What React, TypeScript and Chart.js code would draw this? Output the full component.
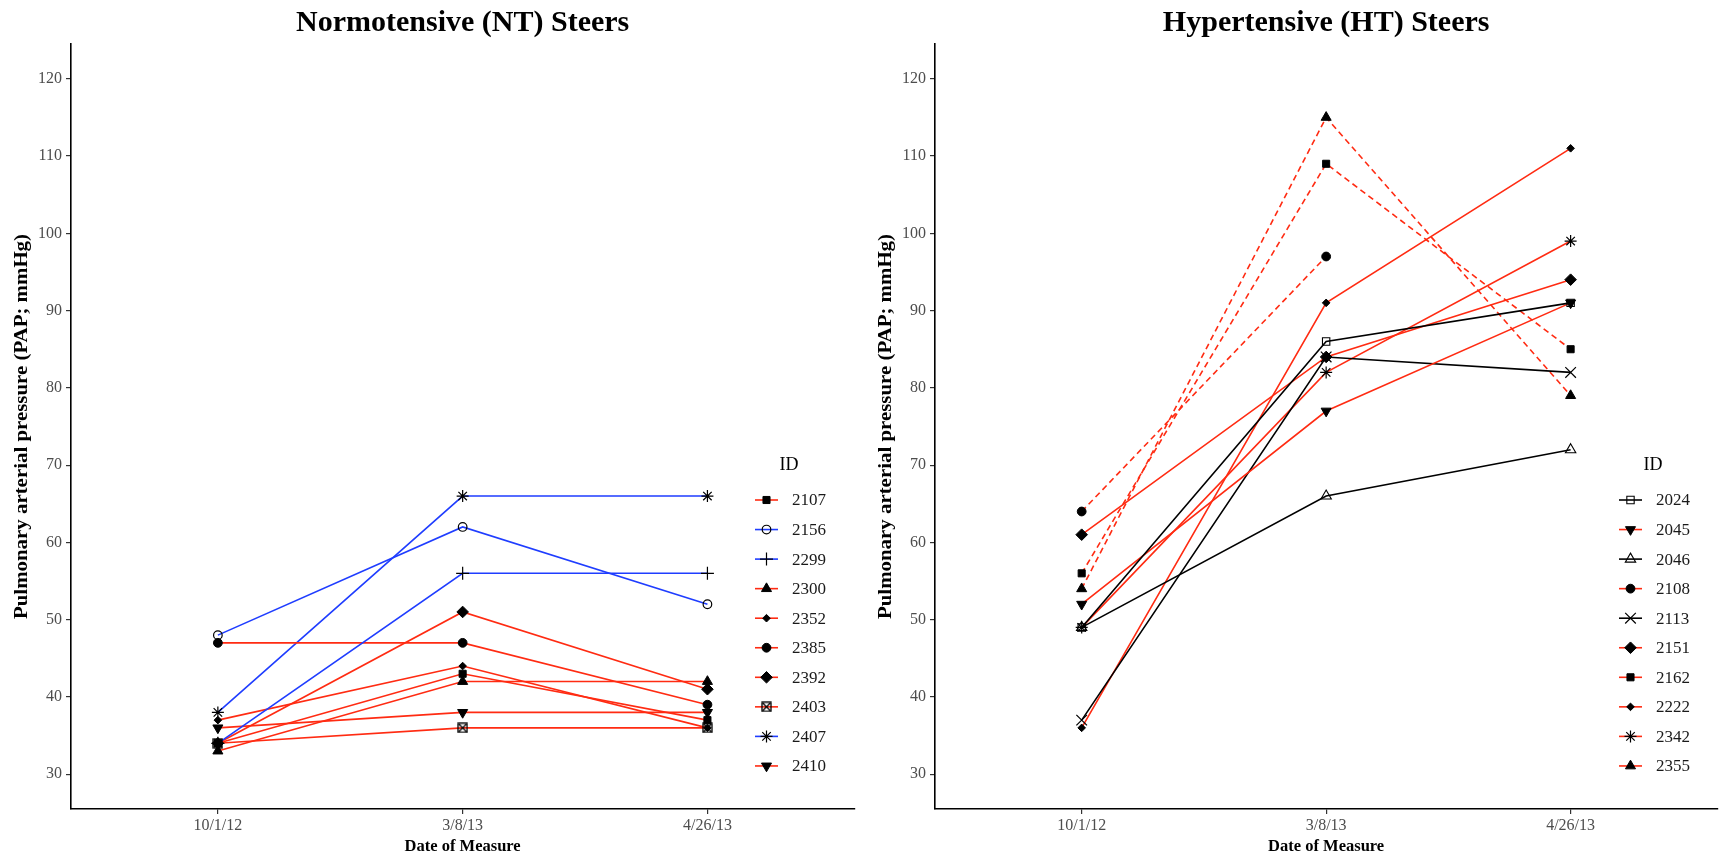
import React, { useEffect, useRef } from 'react';
import { Chart, registerables } from 'chart.js';
import { drawPoint } from 'chart.js/helpers';

Chart.register(...registerables);

// ---------------- data ----------------
const DATES = ['10/1/12', '3/8/13', '4/26/13'];
const Y_TICKS = [30, 40, 50, 60, 70, 80, 90, 100, 110, 120];

const NT_TITLE = 'Normotensive (NT) Steers';
const NT_IDS = ['2107', '2156', '2299', '2300', '2352', '2385', '2392', '2403', '2407', '2410'];
const NT_2107 = [34, 43, 37];
const NT_2156 = [48, 62, 52];
const NT_2299 = [34, 56, 56];
const NT_2300 = [33, 42, 42];
const NT_2352 = [37, 44, 36];
const NT_2385 = [47, 47, 39];
const NT_2392 = [34, 51, 41];
const NT_2403 = [34, 36, 36];
const NT_2407 = [38, 66, 66];
const NT_2410 = [36, 38, 38];
const NT_VALUES = [NT_2107, NT_2156, NT_2299, NT_2300, NT_2352, NT_2385, NT_2392, NT_2403, NT_2407, NT_2410];

const HT_TITLE = 'Hypertensive (HT) Steers';
const HT_IDS = ['2024', '2045', '2046', '2108', '2113', '2151', '2162', '2222', '2342', '2355'];
const HT_2024 = [49, 86, 91];
const HT_2045 = [52, 77, 91];
const HT_2046 = [49, 66, 72];
const HT_2108 = [64, 97, null];
const HT_2113 = [37, 84, 82];
const HT_2151 = [61, 84, 94];
const HT_2162 = [56, 109, 85];
const HT_2222 = [36, 91, 111];
const HT_2342 = [49, 82, 99];
const HT_2355 = [54, 115, 79];
const HT_VALUES = [HT_2024, HT_2045, HT_2046, HT_2108, HT_2113, HT_2151, HT_2162, HT_2222, HT_2342, HT_2355];

// ---------------- styles ----------------
const RED = '#FF2B12';
const BLUE = '#1F3DFF';
const BLACK = '#000000';

const NT_COLORS = [RED, BLUE, BLUE, RED, RED, RED, RED, RED, BLUE, RED];
const NT_SHAPES = ['sqF', 'circO', 'plus', 'triF', 'diaS', 'circF', 'diaF', 'sqX', 'star', 'triDF'];
const NT_DASHED = [false, false, false, false, false, false, false, false, false, false];

const HT_COLORS = [BLACK, RED, BLACK, RED, BLACK, RED, RED, RED, RED, RED];
const HT_SHAPES = ['sqO', 'triDF', 'triO', 'circF', 'x', 'diaF', 'sqF', 'diaS', 'star', 'triF'];
const HT_DASHED = [false, false, false, true, false, false, true, false, false, true];

const FONT = "'Liberation Serif', 'Times New Roman', serif";

let sqXImage: HTMLCanvasElement | null = null;
function getSqX(): HTMLCanvasElement {
  if (sqXImage) return sqXImage;
  const c = document.createElement('canvas');
  c.width = 11;
  c.height = 11;
  const g = c.getContext('2d')!;
  g.strokeStyle = '#000';
  g.lineWidth = 1.3;
  g.strokeRect(1, 1, 9, 9);
  g.beginPath();
  g.moveTo(1.5, 1.5);
  g.lineTo(9.5, 9.5);
  g.moveTo(9.5, 1.5);
  g.lineTo(1.5, 9.5);
  g.stroke();
  sqXImage = c;
  return c;
}

type Marker = { style: any; radius: number; rotation: number; fill: boolean; bw: number };
function marker(shape: string): Marker {
  switch (shape) {
    case 'sqF': return { style: 'rect', radius: 5, rotation: 0, fill: true, bw: 1 };
    case 'sqO': return { style: 'rect', radius: 5.2, rotation: 0, fill: false, bw: 1.1 };
    case 'circO': return { style: 'circle', radius: 4.3, rotation: 0, fill: false, bw: 1.2 };
    case 'circF': return { style: 'circle', radius: 4.4, rotation: 0, fill: true, bw: 1 };
    case 'plus': return { style: 'cross', radius: 6.5, rotation: 0, fill: false, bw: 1.2 };
    case 'x': return { style: 'crossRot', radius: 7.5, rotation: 0, fill: false, bw: 1.2 };
    case 'triF': return { style: 'triangle', radius: 5.8, rotation: 0, fill: true, bw: 1 };
    case 'triO': return { style: 'triangle', radius: 6, rotation: 0, fill: false, bw: 1.1 };
    case 'triDF': return { style: 'triangle', radius: 5.8, rotation: 180, fill: true, bw: 1 };
    case 'diaS': return { style: 'rectRot', radius: 3.8, rotation: 0, fill: true, bw: 1 };
    case 'diaF': return { style: 'rectRot', radius: 5.8, rotation: 0, fill: true, bw: 1 };
    case 'star': return { style: 'star', radius: 6, rotation: 0, fill: false, bw: 1.2 };
    case 'sqX': return { style: getSqX(), radius: 5.5, rotation: 0, fill: false, bw: 0 };
    default: return { style: 'circle', radius: 4, rotation: 0, fill: true, bw: 1 };
  }
}

type PanelProps = {
  title: string;
  ids: string[];
  values: (number | null)[][];
  colors: string[];
  shapes: string[];
  dashed: boolean[];
  left: number;
};

const CW = 862;
const CH = 858;

function Panel(props: PanelProps) {
  const ref = useRef<HTMLCanvasElement | null>(null);
  useEffect(() => {
    const canvas = ref.current;
    if (!canvas) return;
    const { title, ids, values, colors, shapes, dashed } = props;

    const lineSets = values.map((vals, k) => ({
      label: ids[k] + '-line',
      data: vals.map((v, i) => ({ x: i, y: v })),
      borderColor: colors[k],
      borderWidth: 1.6,
      borderDash: dashed[k] ? [6, 4] : [],
      pointRadius: 0,
      fill: false,
      tension: 0,
      order: 2,
      clip: false as any,
    }));
    const pointSets = values.map((vals, k) => {
      const m = marker(shapes[k]);
      return {
        label: ids[k],
        data: vals.map((v, i) => ({ x: i, y: v })),
        showLine: false,
        pointStyle: m.style,
        pointRadius: m.radius,
        pointRotation: m.rotation,
        pointBackgroundColor: m.fill ? '#000' : 'rgba(0,0,0,0)',
        pointBorderColor: '#000',
        pointBorderWidth: m.bw,
        order: 1,
        clip: false as any,
      };
    });

    const overlay = {
      id: 'overlay',
      afterDraw(chart: any) {
        const ctx: CanvasRenderingContext2D = chart.ctx;
        const ca = chart.chartArea;
        ctx.save();
        // title
        ctx.fillStyle = '#000';
        ctx.font = `bold 30px ${FONT}`;
        ctx.textAlign = 'center';
        ctx.textBaseline = 'alphabetic';
        ctx.fillText(title, (ca.left + ca.right) / 2, 31);
        // x title
        ctx.font = `bold 16.5px ${FONT}`;
        ctx.fillText('Date of Measure', (ca.left + ca.right) / 2, 851);
        // y title
        ctx.save();
        ctx.translate(22, (ca.top + ca.bottom) / 2);
        ctx.rotate(-Math.PI / 2);
        ctx.scale(1.16, 1);
        ctx.font = `bold 18px ${FONT}`;
        ctx.textBaseline = 'middle';
        ctx.fillText('Pulmonary arterial pressure (PAP; mmHg)', 0, 0);
        ctx.restore();
        // legend
        ctx.font = `18px ${FONT}`;
        ctx.textBaseline = 'middle';
        ctx.textAlign = 'center';
        ctx.fillStyle = '#000';
        ctx.fillText('ID', 789, 465);
        ctx.font = `17px ${FONT}`;
        ctx.textAlign = 'left';
        ids.forEach((id, k) => {
          const y = 500 + k * 29.55;
          ctx.save();
          ctx.strokeStyle = colors[k];
          ctx.lineWidth = 1.6;
          ctx.setLineDash([]);
          ctx.beginPath();
          ctx.moveTo(755, y);
          ctx.lineTo(778, y);
          ctx.stroke();
          const m = marker(shapes[k]);
          ctx.fillStyle = m.fill ? '#000' : 'rgba(0,0,0,0)';
          ctx.strokeStyle = '#000';
          ctx.lineWidth = m.bw;
          drawPoint(ctx, { pointStyle: m.style, rotation: m.rotation, radius: m.radius, borderWidth: m.bw } as any, 766.5, y);
          ctx.restore();
          ctx.fillStyle = '#1A1A1A';
          ctx.fillText(id, 792, y + 1);
        });
        ctx.restore();
      },
    };

    const tickFont = { family: FONT, size: 16 };
    const chart = new Chart(canvas, {
      type: 'line',
      data: { datasets: [...pointSets, ...lineSets] as any },
      options: {
        responsive: false,
        animation: false,
        events: [],
        devicePixelRatio: 1,
        layout: { padding: { top: 44, right: 1, bottom: 0, left: 0 } },
        plugins: { legend: { display: false }, tooltip: { enabled: false }, title: { display: false } },
        scales: {
          x: {
            type: 'linear',
            min: -0.6,
            max: 2.6,
            afterBuildTicks: (s: any) => { s.ticks = DATES.map((_, i) => ({ value: i })); },
            afterFit: (s: any) => { s.height = 49; },
            ticks: {
              callback: (v: any) => DATES[v as number] ?? '',
              color: '#4D4D4D',
              font: tickFont,
              padding: 2,
              autoSkip: false,
              maxRotation: 0,
            },
            grid: { display: true, drawOnChartArea: false, drawTicks: true, tickLength: 5, color: '#333333', lineWidth: 1.2 },
            border: { display: true, color: '#000', width: 1.6 },
          },
          y: {
            type: 'linear',
            min: 25.5,
            max: 124.5,
            afterBuildTicks: (s: any) => { s.ticks = Y_TICKS.map((v) => ({ value: v })); },
            afterFit: (s: any) => { s.width = 71; },
            ticks: { color: '#4D4D4D', font: tickFont, padding: 4 },
            grid: { display: true, drawOnChartArea: false, drawTicks: true, tickLength: 5, color: '#333333', lineWidth: 1.2 },
            border: { display: true, color: '#000', width: 1.6 },
          },
        },
      },
      plugins: [overlay],
    });
    return () => chart.destroy();
  }, []);
  return (
    <canvas
      ref={ref}
      width={CW}
      height={CH}
      style={{ position: 'absolute', left: props.left, top: 0, width: CW, height: CH }}
    />
  );
}

export default function App() {
  return (
    <div style={{ position: 'absolute', left: 0, top: 0, width: 1721, height: 858, overflow: 'hidden', background: '#fff' }}>
      <Panel title={NT_TITLE} ids={NT_IDS} values={NT_VALUES} colors={NT_COLORS} shapes={NT_SHAPES} dashed={NT_DASHED} left={0} />
      <Panel title={HT_TITLE} ids={HT_IDS} values={HT_VALUES} colors={HT_COLORS} shapes={HT_SHAPES} dashed={HT_DASHED} left={864} />
    </div>
  );
}
